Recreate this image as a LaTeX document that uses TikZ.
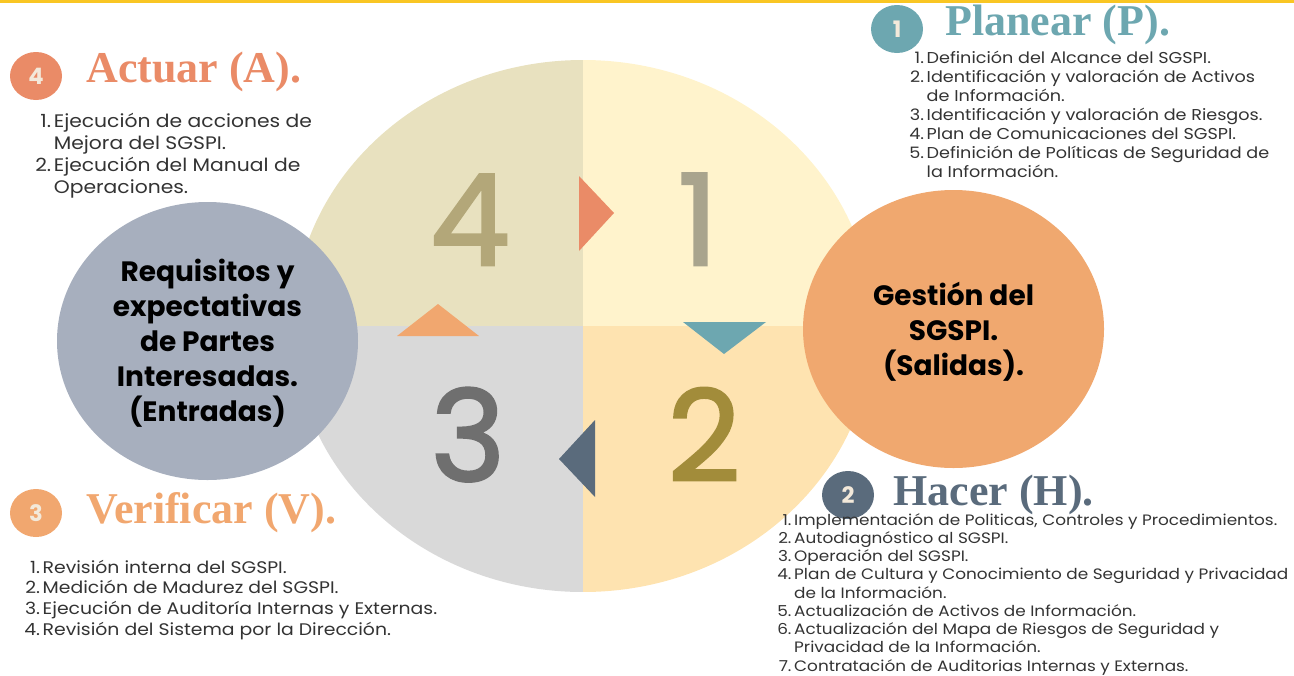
\documentclass[tikz,border=0pt]{standalone}
\usepackage{fontspec}
\setmainfont{Poppins}
\newfontfamily\headfont{Liberation Serif}
\newfontfamily\listfont{Poppins}[FakeStretch=1.12]
\newfontfamily\numfont{Poppins}[FakeBold=2]
\usepackage{tikz}

\definecolor{topbar}{HTML}{F9C623}
\definecolor{qfour}{HTML}{E8E1BF}
\definecolor{qone}{HTML}{FFF3CC}
\definecolor{qthree}{HTML}{D9D9D9}
\definecolor{qtwo}{HTML}{FEE3B0}
\definecolor{inblue}{HTML}{A7AFBE}
\definecolor{outorange}{HTML}{F0A86F}
\definecolor{salmon}{HTML}{EA8B67}
\definecolor{lightorange}{HTML}{F1A76F}
\definecolor{tealc}{HTML}{6DA7B0}
\definecolor{slate}{HTML}{5A6B7C}
\definecolor{numfour}{HTML}{B3A779}
\definecolor{numone}{HTML}{A9A48D}
\definecolor{numthree}{HTML}{6F6F6F}
\definecolor{numtwo}{HTML}{A28C3A}
\definecolor{listgray}{HTML}{333333}
\definecolor{badgetxt}{HTML}{F3E9DA}

\begin{document}
\begin{tikzpicture}[x=0.75pt,y=0.75pt,yscale=-1,xscale=1,
  heading/.style={anchor=base west,inner sep=0pt,font=\headfont\bfseries\fontsize{33}{36}\selectfont},
  badgenum/.style={inner sep=0pt,text=badgetxt,font=\bfseries\fontsize{17}{17}\selectfont},
  bignum/.style={anchor=base,inner sep=0pt,font=\numfont\fontsize{95}{95}\selectfont},
  listtxt/.style={anchor=base west,inner sep=0pt,text=listgray},
  circtxt/.style={align=center,inner sep=0pt,text=black,font=\bfseries\fontsize{21}{26.25}\selectfont}]
\useasboundingbox (0,0) rectangle (1294,675);

%Shape: Rectangle [top bar]
\fill[topbar] (0,0) rectangle (1294,3);

%Shape: Ellipse [cycle, four quarters]
\begin{scope}
\clip (583,326) ellipse [x radius=290, y radius=266];
\fill[qfour] (293,60) rectangle (583,326);
\fill[qone] (583,60) rectangle (873,326);
\fill[qthree] (293,326) rectangle (583,592);
\fill[qtwo] (583,326) rectangle (873,592);
\end{scope}

% Big numbers
\node[bignum,text=numfour] (nFour) at (470,265) {4};
\node[bignum,text=numone] (nOne) at (698,265) {1};
\node[bignum,text=numthree] (nThree) at (468,481) {3};
\node[bignum,text=numtwo] (nTwo) at (704,481) {2};

%Shape: Triangles
\fill[salmon] (579,176) -- (579,251) -- (614,213) -- cycle ;
\fill[tealc] (683,322) -- (766,322) -- (724,354) -- cycle ;
\fill[slate] (595,420) -- (595,497) -- (559,459) -- cycle ;
\fill[lightorange] (397,336) -- (479,336) -- (438,304) -- cycle ;

%Shape: Ellipse [inputs]
\fill[inblue] (207.5,341) ellipse [x radius=150.5, y radius=139];
\node[circtxt] (inText) at (207.5,343) {Requisitos y\\expectativas\\de Partes\\Interesadas.\\(Entradas)};

%Shape: Ellipse [outputs]
\fill[outorange] (953.5,329) ellipse [x radius=150.5, y radius=139];
\node[circtxt] (outText) at (953.5,332) {Gestión del\\SGSPI.\\(Salidas).};

%Shape: Badges
\fill[salmon] (36,76) ellipse [x radius=26, y radius=24];
\node[badgenum] (bFour) at (36,76) {4};
\fill[tealc] (897,29) ellipse [x radius=26, y radius=24];
\node[badgenum] (bOne) at (897,29) {1};
\fill[lightorange] (36,513) ellipse [x radius=26, y radius=24];
\node[badgenum] (bThree) at (36,513) {3};
\fill[slate] (848,495) ellipse [x radius=26, y radius=24];
\node[badgenum] (bTwo) at (848,495) {2};

% Text Node
\node[heading,text=salmon] (hAct) at (86,82) {Actuar (A).};
% Text Node
\node[heading,text=tealc] (hPlan) at (945,35) {Planear (P).};
% Text Node
\node[heading,text=lightorange] (hVer) at (86,523) {Verificar (V).};
% Text Node
\node[heading,text=slate] (hHac) at (893,505) {Hacer (H).};

% Text Node
\node[listtxt,font=\listfont\fontsize{13.6}{16.5}\selectfont] (lAct) at (35,127) {\begin{tabular}[t]{@{}r@{\hspace{2pt}}l@{}}
1.&Ejecución de acciones de\\
&Mejora del SGSPI.\\
2.&Ejecución del Manual de\\
&Operaciones.
\end{tabular}};
% Text Node
\node[listtxt,font=\listfont\fontsize{11.8}{14.25}\selectfont] (lPlan) at (909,63) {\begin{tabular}[t]{@{}r@{\hspace{2pt}}l@{}}
1.&Definición del Alcance del SGSPI.\\
2.&Identificación y valoración de Activos\\
&de Información.\\
3.&Identificación y valoración de Riesgos.\\
4.&Plan de Comunicaciones del SGSPI.\\
5.&Definición de Políticas de Seguridad de\\
&la Información.
\end{tabular}};
% Text Node
\node[listtxt,font=\listfont\fontsize{12.6}{15.5}\selectfont] (lVer) at (24,573) {\begin{tabular}[t]{@{}r@{\hspace{2pt}}l@{}}
1.&Revisión interna del SGSPI.\\
2.&Medición de Madurez del SGSPI.\\
3.&Ejecución de Auditoría Internas y Externas.\\
4.&Revisión del Sistema por la Dirección.
\end{tabular}};
% Text Node
\node[listtxt,font=\listfont\fontsize{11.3}{13.7}\selectfont] (lHac) at (777,525) {\begin{tabular}[t]{@{}r@{\hspace{2pt}}l@{}}
1.&Implementación de Politicas, Controles y Procedimientos.\\
2.&Autodiagnóstico al SGSPI.\\
3.&Operación del SGSPI.\\
4.&Plan de Cultura y Conocimiento de Seguridad y Privacidad\\
&de la Información.\\
5.&Actualización de Activos de Información.\\
6.&Actualización del Mapa de Riesgos de Seguridad y\\
&Privacidad de la Información.\\
7.&Contratación de Auditorias Internas y Externas.
\end{tabular}};

\end{tikzpicture}
\end{document}
